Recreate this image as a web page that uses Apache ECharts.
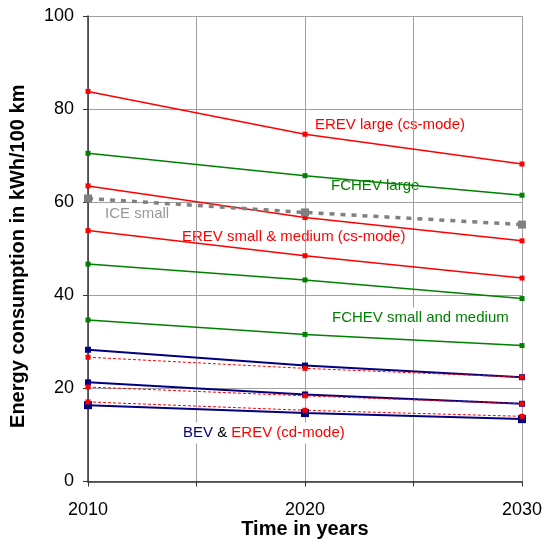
<!DOCTYPE html>
<html>
<head>
<meta charset="utf-8">
<script src="https://cdn.jsdelivr.net/npm/echarts@6/dist/echarts.min.js"></script>
<style>
html, body {margin: 0; padding: 0; background: #fff;}
#main {width: 544px; height: 544px;}
</style>
</head>
<body>
<div id="main"></div>
<script>
var years = [2010, 2020, 2030];
var yTicks = [0, 20, 40, 60, 80, 100];

// cs-mode / hybrid values (kWh/100 km)
var erevLargeCs = [83.8, 74.6, 68.2];
var fchevLarge = [70.5, 65.7, 61.5];
var erevMediumCs = [63.5, 56.7, 51.7];
var iceSmall = [60.8, 57.8, 55.2];
var erevSmallCs = [53.9, 48.5, 43.7];
var fchevMedium = [46.7, 43.3, 39.3];
var fchevSmall = [34.7, 31.6, 29.2];
// battery / cd-mode
var bevLarge = [28.3, 24.9, 22.4];
var erevLargeCd = [26.7, 24.3, 22.4];
var bevMedium = [21.3, 18.7, 16.7];
var erevMediumCd = [20.3, 18.4, 16.7];
var bevSmall = [16.4, 14.7, 13.4];
var erevSmallCd = [17.1, 15.3, 14.0];

var RED = '#ff0000', GREEN = '#008000', NAVY = '#000080', GRAY = '#808080';
var FONT = 'Liberation Sans, Arial, sans-serif';

function pts(vals) {
	return years.map(function (y, i) { return [y, vals[i]]; });
}

function line(name, vals, color, width, dash, sym) {
	return {
		name: name,
		type: 'line',
		data: pts(vals),
		symbol: 'rect',
		symbolSize: sym,
		showSymbol: true,
		silent: true,
		animation: false,
		lineStyle: {color: color, width: width, type: dash || 'solid'},
		itemStyle: {color: color}
	};
}

var chart = echarts.init(document.getElementById('main'));
chart.setOption({
	backgroundColor: '#fff',
	animation: false,
	grid: {left: 88, right: 22, top: 16, bottom: 62.5, containLabel: false, outerBoundsMode: 'none'},
	xAxis: {
		type: 'value',
		min: 2010, max: 2030, interval: 5,
		name: 'Time in years',
		nameLocation: 'middle',
		nameGap: 38,
		nameMoveOverlap: false,
		nameTextStyle: {fontFamily: FONT, fontSize: 20, fontWeight: 'bold', color: '#000'},
		axisLine: {lineStyle: {color: '#333', width: 1.5}},
		axisTick: {show: true, length: 5, lineStyle: {color: '#333'}},
		axisLabel: {margin: 20, fontFamily: FONT, fontSize: 18, color: '#000',
			formatter: function (v) { return v % 10 === 0 ? String(v) : ''; }},
		splitLine: {show: true, lineStyle: {color: '#a0a0a0', width: 1}}
	},
	yAxis: {
		type: 'value',
		min: yTicks[0], max: yTicks[yTicks.length - 1], interval: 20,
		name: 'Energy consumption in kWh/100 km',
		nameLocation: 'middle',
		nameGap: 60,
		nameMoveOverlap: false,
		nameTextStyle: {fontFamily: FONT, fontSize: 20, fontWeight: 'bold', color: '#000', padding: [0, 15, 0, 0]},
		axisLine: {show: true, lineStyle: {color: '#333', width: 1.5}},
		axisTick: {show: true, length: 5, lineStyle: {color: '#333'}},
		axisLabel: {margin: 14, fontFamily: FONT, fontSize: 18, color: '#000'},
		splitLine: {show: true, lineStyle: {color: '#a0a0a0', width: 1}}
	},
	series: [
		line('EREV large (cs-mode)', erevLargeCs, RED, 1.5, null, 5),
		line('FCHEV large', fchevLarge, GREEN, 1.5, null, 5),
		line('EREV medium (cs-mode)', erevMediumCs, RED, 1.5, null, 5),
		line('ICE small', iceSmall, GRAY, 3.5, [5, 6], 8),
		line('EREV small (cs-mode)', erevSmallCs, RED, 1.5, null, 5),
		line('FCHEV medium', fchevMedium, GREEN, 1.5, null, 5),
		line('FCHEV small', fchevSmall, GREEN, 1.5, null, 5),
		line('BEV large', bevLarge, NAVY, 2, null, 6),
		line('EREV large (cd-mode)', erevLargeCd, RED, 1, [3, 2], 5),
		line('BEV medium', bevMedium, NAVY, 2, null, 6),
		line('EREV medium (cd-mode)', erevMediumCd, RED, 1, [3, 2], 5),
		line('BEV small', bevSmall, NAVY, 2, null, 8),
		line('EREV small (cd-mode)', erevSmallCd, RED, 1, [3, 2], 5)
	],
	graphic: [
		{type: 'text', x: 315, y: 125, silent: true,
			style: {text: 'EREV large (cs-mode)', fill: RED, font: '15px ' + FONT, verticalAlign: 'middle'}},
		{type: 'text', x: 331, y: 186, silent: true,
			style: {text: 'FCHEV large', fill: GREEN, font: '15px ' + FONT, verticalAlign: 'middle'}},
		{type: 'text', x: 105, y: 214, silent: true,
			style: {text: 'ICE small', fill: '#999', font: '15px ' + FONT, verticalAlign: 'middle'}},
		{type: 'text', x: 182, y: 237, silent: true,
			style: {text: 'EREV small & medium (cs-mode)', fill: RED, font: '15px ' + FONT, verticalAlign: 'middle'}},
		{type: 'text', x: 331, y: 318, silent: true, z: 100,
			style: {text: 'FCHEV small and medium', fill: GREEN, font: '15px ' + FONT, verticalAlign: 'middle',
				backgroundColor: '#fff', padding: [3, 1]}},
		{type: 'text', x: 182, y: 433, silent: true, z: 100,
			style: {text: '{b|BEV} {k|&} {r|EREV (cd-mode)}', font: '15px ' + FONT, verticalAlign: 'middle',
				backgroundColor: '#fff', padding: [3, 1],
				rich: {
					b: {fill: NAVY, font: '15px ' + FONT},
					k: {fill: '#000', font: '15px ' + FONT},
					r: {fill: RED, font: '15px ' + FONT}
				}}}
	]
});
</script>
</body>
</html>
